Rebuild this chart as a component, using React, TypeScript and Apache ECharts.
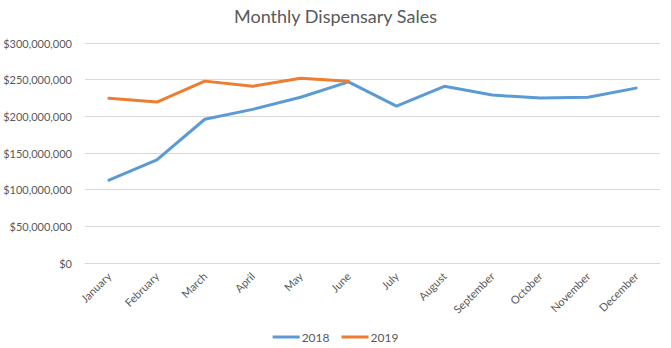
import React, { useEffect, useRef } from "react";
import * as echarts from "echarts";

const months = ["January","February","March","April","May","June","July","August","September","October","November","December"];
const sales2018 = [113000000, 140500000, 196000000, 209500000, 226000000, 247000000, 214000000, 241000000, 229000000, 225000000, 226000000, 238500000];
const sales2019 = [224500000, 219500000, 248000000, 241000000, 252000000, 248000000];
const yTicks = [0, 50000000, 100000000, 150000000, 200000000, 250000000, 300000000];

const FONT = "Lato, 'Open Sans', sans-serif";

export default function App() {
  const ref = useRef<HTMLDivElement>(null);
  useEffect(() => {
    const chart = echarts.init(ref.current!, null, { renderer: "svg" });
    chart.setOption({
      animation: false,
      title: {
        text: "Monthly Dispensary Sales",
        left: "center",
        top: 2,
        textStyle: { fontFamily: FONT, fontSize: 18, fontWeight: "normal", color: "#595959" },
      },
      legend: {
        bottom: 0,
        left: "center",
        icon: "rect",
        itemWidth: 27,
        itemHeight: 3,
        itemGap: 12,
        textStyle: { fontFamily: FONT, fontSize: 12, color: "#595959", padding: [0, 0, 0, -3] },
        data: ["2018", "2019"],
      },
      grid: { left: 85, right: 11, top: 43, bottom: 85 },
      xAxis: {
        type: "category",
        data: months,
        boundaryGap: true,
        axisLine: { lineStyle: { color: "#d9d9d9" } },
        axisTick: { show: false },
        axisLabel: { rotate: 45, fontFamily: FONT, fontSize: 11, color: "#595959", margin: 11, interval: 0 },
      },
      yAxis: {
        type: "value",
        min: yTicks[0],
        max: yTicks[yTicks.length - 1],
        interval: 50000000,
        axisLine: { show: false },
        axisTick: { show: false },
        splitLine: { lineStyle: { color: "#d9d9d9" } },
        axisLabel: {
          fontFamily: FONT,
          fontSize: 11,
          color: "#595959",
          margin: 13,
          formatter: (v: number) => "$" + v.toLocaleString("en-US"),
        },
      },
      series: [
        {
          name: "2018",
          type: "line",
          data: sales2018,
          symbol: "none",
          lineStyle: { color: "#5B9BD5", width: 3, cap: "round", join: "round" },
          itemStyle: { color: "#5B9BD5" },
        },
        {
          name: "2019",
          type: "line",
          data: sales2019,
          symbol: "none",
          lineStyle: { color: "#ED7D31", width: 3, cap: "round", join: "round" },
          itemStyle: { color: "#ED7D31" },
        },
      ],
    });
    return () => chart.dispose();
  }, []);
  return <div ref={ref} style={{ width: 671, height: 348, position: "absolute", left: 0, top: 0 }} />;
}
